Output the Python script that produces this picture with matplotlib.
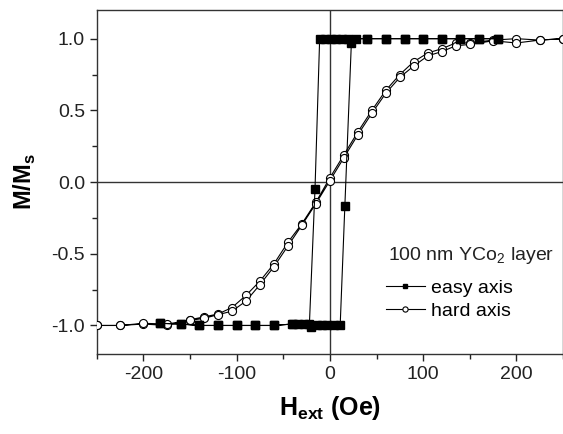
import numpy as np
import matplotlib
matplotlib.use("Agg")
import matplotlib.pyplot as plt
from matplotlib.ticker import MultipleLocator

plt.rcParams["font.family"] = ["Liberation Sans", "DejaVu Sans"]
plt.rcParams["mathtext.fontset"] = "custom"
plt.rcParams["mathtext.rm"] = "Liberation Sans"
plt.rcParams["mathtext.bf"] = "Liberation Sans:bold"
plt.rcParams["axes.unicode_minus"] = False

# easy axis loop: field going down, then back up
easy_h_down = [180, 160, 140, 120, 100, 80, 60, 40, 19, 13, 6, 1, -5, -11,
               -16, -22, -28, -34, -41, -60, -80, -100, -120, -140, -160, -182]
easy_m_down = [1.0, 1.0, 1.0, 1.0, 1.0, 1.0, 1.0, 1.0, 1.0, 1.0, 1.0, 1.0, 1.0, 1.0,
               -0.05, -0.99, -0.99, -0.99, -0.99, -1.0, -1.0, -1.0, -1.0, -1.0, -0.99, -0.985]
easy_h_up = [-182, -160, -140, -120, -100, -80, -60, -40, -20, -14, -9, -3, 4, 11,
             16, 23, 28, 40, 60, 80, 100, 120, 140, 160, 180]
easy_m_up = [-0.985, -0.99, -1.0, -1.0, -1.0, -1.0, -1.0, -0.99, -1.01, -1.0, -1.0, -1.0, -1.0, -1.0,
             -0.17, 0.97, 1.0, 1.0, 1.0, 1.0, 1.0, 1.0, 1.0, 1.0, 1.0]

# hard axis loop
hard_h = [250, 225, 200, 175, 150, 135, 120, 105, 90, 75, 60, 45, 30, 15, 0,
          -15, -30, -45, -60, -75, -90, -105, -120, -135, -150, -175, -200, -225, -250]
hard_m_down = [1.0, 0.99, 1.0, 0.99, 0.97, 0.97, 0.93, 0.90, 0.84, 0.75, 0.64, 0.50, 0.35, 0.19, 0.03,
               -0.14, -0.29, -0.42, -0.57, -0.69, -0.79, -0.875, -0.92, -0.94, -0.96, -1.0, -0.99, -1.0, -1.0]
hard_m_up = [1.0, 0.99, 0.97, 0.985, 0.96, 0.95, 0.91, 0.88, 0.81, 0.73, 0.62, 0.48, 0.33, 0.17, 0.01,
             -0.15, -0.30, -0.445, -0.59, -0.715, -0.83, -0.90, -0.925, -0.95, -0.965, -0.99, -0.985, -1.0, -1.0]

easy_h = easy_h_down + easy_h_up
easy_m = easy_m_down + easy_m_up
hard_hh = hard_h + hard_h[::-1]
hard_mm = hard_m_down + hard_m_up[::-1]

fig = plt.figure(figsize=(5.63, 4.34), dpi=100)
ax = fig.add_axes([0.172, 0.184, 0.828, 0.793])

ax.axhline(0, color="#333333", lw=1.0, zorder=1)
ax.axvline(0, color="#333333", lw=1.0, zorder=1)

ax.plot(hard_hh, hard_mm, color="black", lw=0.8, marker="o", ms=5.8,
        mfc="white", mec="black", mew=0.8, label="hard axis", zorder=3)
ax.plot(easy_h, easy_m, color="black", lw=0.8, marker="s", ms=5.2,
        mfc="black", mec="black", label="easy axis", zorder=4)

ax.set_xlim(-250, 250)
ax.set_ylim(-1.2, 1.2)
ax.xaxis.set_major_locator(MultipleLocator(100))
ax.xaxis.set_minor_locator(MultipleLocator(50))
ax.yaxis.set_major_locator(MultipleLocator(0.5))
ax.yaxis.set_minor_locator(MultipleLocator(0.25))
ax.yaxis.set_major_formatter(plt.FuncFormatter(lambda v, p: f"{v:.1f}"))
ax.tick_params(which="major", direction="out", length=5, width=1, labelsize=14, colors="#222222")
ax.tick_params(which="minor", direction="out", length=3.5, width=1, colors="#222222")
for s in ax.spines.values():
    s.set_color("#333333")
    s.set_linewidth(1.0)

ax.set_xlabel(r"H$_{\mathbf{ext}}$ (Oe)", fontsize=18, fontweight="bold", labelpad=8)
ax.set_ylabel(r"M/M$_{\mathbf{s}}$", fontsize=17, fontweight="bold", labelpad=10)

# legend title as its own text, entries below it
ax.text(0.624, 0.288, r"100 nm YCo$_2$ layer", transform=ax.transAxes,
        fontsize=14, ha="left", va="center", color="#222222")
handles, labels = ax.get_legend_handles_labels()
leg = ax.legend(handles[::-1], labels[::-1],
                loc="upper left", bbox_to_anchor=(0.62, 0.218), frameon=False,
                fontsize=14, handlelength=2.0,
                handletextpad=0.3, markerscale=0.65,
                labelspacing=0.3, borderaxespad=0, borderpad=0)

fig.savefig("out.png", dpi=100)
